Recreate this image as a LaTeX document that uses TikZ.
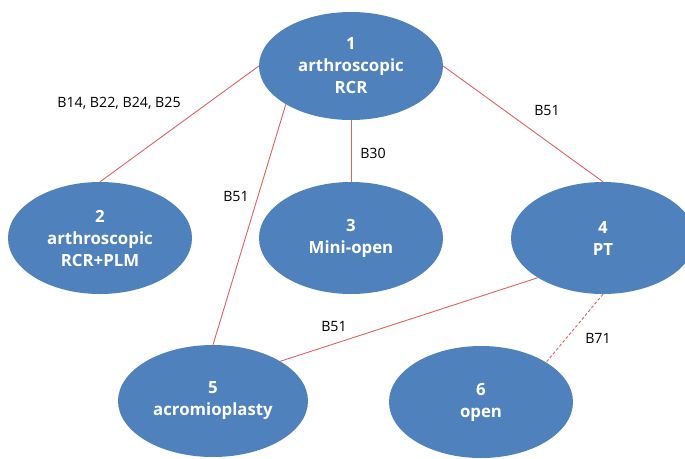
\documentclass[tikz,border=0pt]{standalone}
\usepackage{fontspec}
\setmainfont{Open Sans}
\usetikzlibrary{shapes.geometric}
\definecolor{nodeblue}{RGB}{79,129,189}
\definecolor{linered}{RGB}{222,98,98}
\tikzset{
  ell/.style={ellipse, fill=nodeblue, draw=none, inner sep=0pt, minimum width=184pt, minimum height=112pt,
    text=white, align=center, font=\fontsize{16.8}{22}\selectfont\bfseries},
  conn/.style={draw=linered, line width=0.9pt},
  lbl/.style={font=\fontsize{14.2}{16}\selectfont, text=black, inner sep=0pt}
}
\begin{document}
\begin{tikzpicture}[x=1pt,y=-1pt]
\useasboundingbox (0,0) rectangle (685,458);
\node[ell, minimum height=108pt] (n1) at (351,66) {1\\arthroscopic\\RCR};
\node[ell] (n2) at (100,238) {2\\arthroscopic\\RCR+PLM};
\node[ell] (n3) at (351,238) {3\\Mini-open};
\node[ell] (n4) at (603,238) {4\\PT};
\node[ell, minimum width=190pt] (n5) at (213,401) {5\\acromioplasty};
\node[ell] (n6) at (481,402) {6\\open};
\draw[conn] (n1.west) -- (n2.north);
\draw[conn] (n1.south) -- (n3.north);
\draw[conn] (n1.east) -- (n4.north);
\draw[conn] (n1.south west) -- (n5.north);
\draw[conn] (n4.south west) -- (n5.north east);
\draw[conn, dash pattern=on 3pt off 2pt] (n4.south) -- (n6.north east);
\node[lbl] (l12) at (119,103) {B14, B22, B24, B25};
\node[lbl] (l13) at (373,153) {B30};
\node[lbl] (l15) at (236,196) {B51};
\node[lbl] (l14) at (547,110) {B51};
\node[lbl] (l45) at (334,326) {B51};
\node[lbl] (l46) at (598,338) {B71};
\end{tikzpicture}
\end{document}
